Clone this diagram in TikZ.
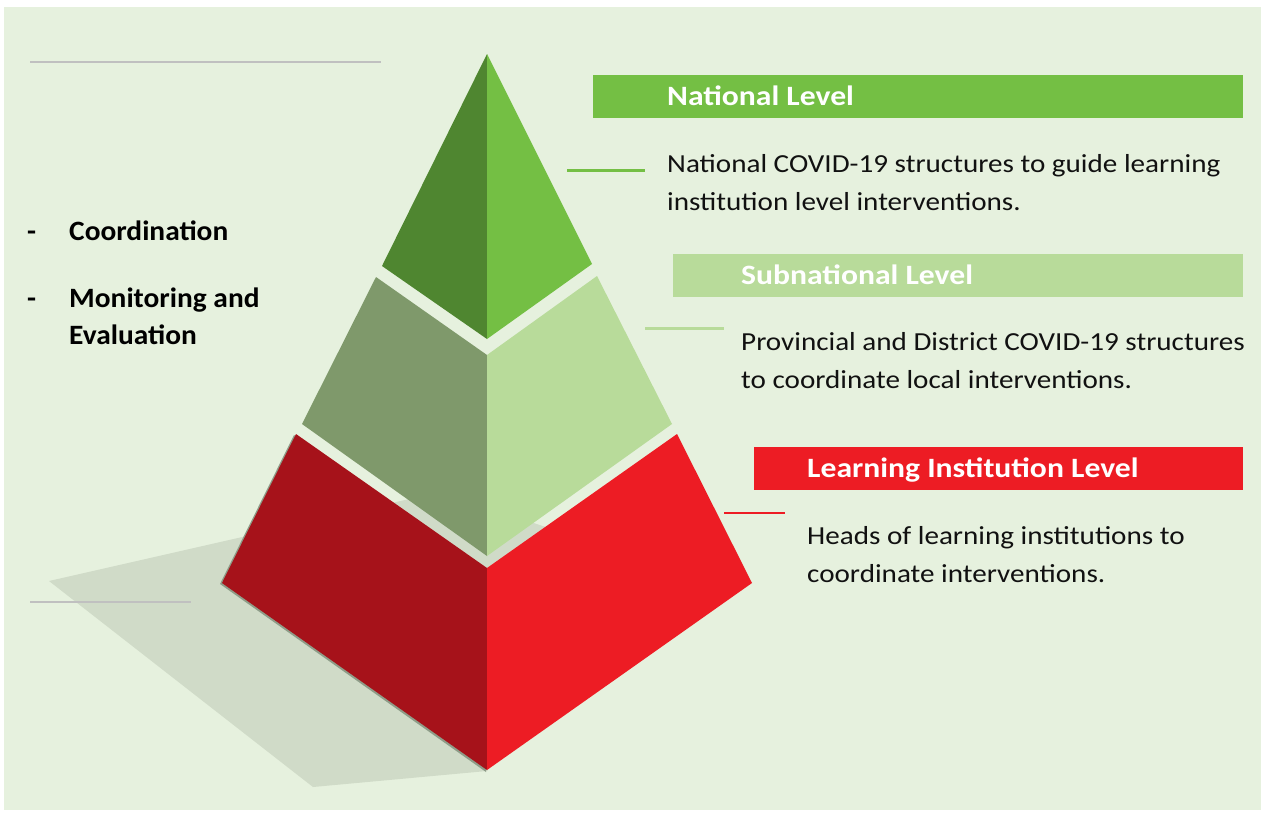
\documentclass[tikz,border=0pt]{standalone}
\usepackage{fontspec}
\setmainfont{Carlito}
\newfontfamily\descfont[FakeStretch=1.12]{Carlito}
\newfontfamily\headfont[FakeStretch=1.13]{Carlito Bold}
\newfontfamily\sidefont[FakeStretch=1.05]{Carlito Bold}
\definecolor{bgc}{HTML}{E6F1DE}
\definecolor{topL}{HTML}{4F8630}
\definecolor{topR}{HTML}{74BF44}
\definecolor{midL}{HTML}{7F996B}
\definecolor{midR}{HTML}{B8DB9A}
\definecolor{botL}{HTML}{A6121A}
\definecolor{botR}{HTML}{ED1C24}
\definecolor{castshadow}{HTML}{D0DBC8}
\definecolor{edgeshadow}{HTML}{8E9C88}
\definecolor{rule}{HTML}{C0C0C0}
\definecolor{ink}{HTML}{111111}
\tikzset{
  bar/.style={draw=none, inner sep=0, anchor=north west, minimum height=43pt},
  headtext/.style={inner sep=0, anchor=base west, text=white, font=\headfont\fontsize{28}{28}\selectfont},
  desctext/.style={inner sep=0, anchor=base west, text=ink, font=\descfont\fontsize{26}{38}\selectfont},
  sidetext/.style={inner sep=0, anchor=base west, text=black, font=\sidefont\fontsize{28}{37}\selectfont},
  leader/.style={line width=3pt},
  greyrule/.style={rule, line width=2.5pt}
}
\begin{document}
\begin{tikzpicture}[x=1pt,y=-1pt]
\useasboundingbox (0,0) rectangle (1261,812);
\fill[bgc] (4,7) rectangle (1261,810);

% decorative rules on the left
\draw[greyrule] (30,62) -- (381,62);

% cast shadow of the pyramid
\fill[castshadow] (49,581) -- (440,492) -- (600,545) -- (487,771) -- (313,787) -- cycle;
\draw[greyrule] (30,602) -- (191,602);

% bottom tier
\fill[edgeshadow] (294,435) -- (220,584) -- (486,772) -- (487,570) -- cycle;
\fill[botL] (296,434) -- (222,583) -- (487,770) -- (487,568) -- cycle;
\fill[botR] (487,568) -- (487,770) -- (752,583) -- (677,434) -- cycle;

% middle tier
\fill[midL] (376,277) -- (302,424) -- (487,556) -- (487,355) -- cycle;
\fill[midR] (487,355) -- (487,556) -- (672,424) -- (597,276) -- cycle;

% top tier
\fill[topL] (487,54) -- (382,266) -- (487,339) -- cycle;
\fill[topR] (487,54) -- (487,339) -- (592,264) -- cycle;

% side list
\node[sidetext] (d1) at (27,240) {-};
\node[sidetext] (coord) at (69,240) {Coordination};
\node[sidetext] (d2) at (27,307) {-};
\node[sidetext] (mon) at (69,307) {Monitoring and};
\node[sidetext] (eval) at (69,344) {Evaluation};

% national level
\node[bar, fill=topR, minimum width=650pt] (natbar) at (593,75) {};
\node[headtext] (nathead) at (667,105) {National Level};
\node[desctext] (natd1) at (667,172) {National COVID-19 structures to guide learning};
\node[desctext] (natd2) at (667,210) {institution level interventions.};
\coordinate (natA) at (567,170);
\coordinate (natB) at (645,170);
\draw[leader, topR] (natA) -- (natB);

% subnational level
\node[bar, fill=midR, minimum width=570pt] (subbar) at (673,254) {};
\node[headtext] (subhead) at (741,284) {Subnational Level};
\node[desctext] (subd1) at (741,350) {Provincial and District COVID-19 structures};
\node[desctext] (subd2) at (741,388) {to coordinate local interventions.};
\coordinate (subA) at (645,328);
\coordinate (subB) at (724,328);
\draw[leader, midR] (subA) -- (subB);

% learning institution level
\node[bar, fill=botR, minimum width=489pt] (lrnbar) at (754,447) {};
\node[headtext] (lrnhead) at (807,477) {Learning Institution Level};
\node[desctext] (lrnd1) at (807,544) {Heads of learning institutions to};
\node[desctext] (lrnd2) at (807,582) {coordinate interventions.};
\coordinate (lrnA) at (724,513);
\coordinate (lrnB) at (785,513);
\draw[leader, line width=2.5pt, botR] (lrnA) -- (lrnB);
\end{tikzpicture}
\end{document}
